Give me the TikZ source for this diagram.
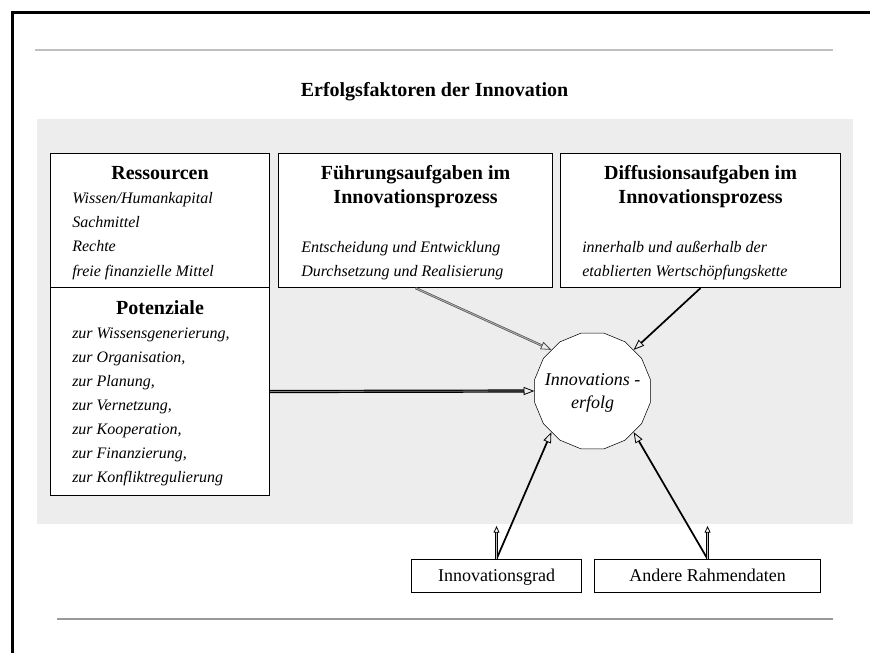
\documentclass[tikz,border=0pt]{standalone}
\usepackage{fontspec}
\setmainfont{Liberation Serif}
\usetikzlibrary{shapes, arrows.meta, calc, positioning}

\definecolor{bggray}{HTML}{EDEDED}

\begin{document}
\begin{tikzpicture}[x=0.75pt, y=-0.75pt, font=\fontsize{12}{18}\selectfont,
  box/.style={draw, line width=0.8pt, fill=white, anchor=north west, inner sep=0pt},
  head/.style={font=\fontsize{15}{18}\selectfont\bfseries, align=center, inner sep=0pt, anchor=north},
  items/.style={font=\fontsize{12}{18.2}\selectfont\itshape, align=left, inner sep=0pt, anchor=north west},
  tip/.style={-{Triangle[open, length=8pt, width=6pt, line width=0.6pt]}},
  blk/.style={tip, line width=1.3pt},
  dblgray/.style={tip, draw=black!70, double=gray!60, double distance=0.7pt, line width=0.5pt},
  dblblk/.style={tip, draw=black, double=gray, double distance=0.6pt, line width=0.9pt},
  stub/.style={-{Triangle[open, length=5pt, width=4.5pt, line width=0.6pt]}, draw=black, double=gray!50, double distance=0.8pt, line width=0.6pt}]
\useasboundingbox (0,0) rectangle (870,653);

% frame and rules
\draw[line width=2pt] (12.5,653) -- (12.5,12.5) -- (870,12.5);
\draw[gray!50, line width=1.3pt] (35,50) -- (833,50);
\draw[gray!80, line width=1pt] (57,619) -- (833,619);

\node[font=\fontsize{15}{17}\selectfont\bfseries, anchor=base] (title) at (434.5,96) {Erfolgsfaktoren der Innovation};

\fill[bggray] (37,119) rectangle (853,524);

% boxes
\node[box, minimum width=164.25pt, minimum height=100.5pt] (res) at (50,153) {};
\node[box, minimum width=164.25pt, minimum height=156pt] (pot) at (50,287) {};
\node[box, minimum width=205.5pt, minimum height=100.5pt] (fuehr) at (278,153) {};
\node[box, minimum width=210pt, minimum height=100.5pt] (diff) at (560,153) {};

\node[head] (reshead) at ($(res.north)+(0,13)$) {Ressourcen};
\node[items] (resitems) at ($(res.north west)+(22,39)$) {Wissen/Humankapital\\Sachmittel\\Rechte\\freie finanzielle Mittel};

\node[head] (pothead) at ($(pot.north)+(0,13)$) {Potenziale};
\node[items, font=\fontsize{12}{18}\selectfont\itshape] (potitems) at ($(pot.north west)+(22,41)$) {zur Wissensgenerierung,\\zur Organisation,\\zur Planung,\\zur Vernetzung,\\zur Kooperation,\\zur Finanzierung,\\zur Konfliktregulierung};

\node[head] (fuehrhead) at ($(fuehr.north)+(0,12)$) {Führungsaufgaben im\\Innovationsprozess};
\node[items] (fuehritems) at ($(fuehr.north west)+(23,88)$) {Entscheidung und Entwicklung\\Durchsetzung und Realisierung};

\node[head] (diffhead) at ($(diff.north)+(0,12)$) {Diffusionsaufgaben im\\Innovationsprozess};
\node[items] (diffitems) at ($(diff.north west)+(22,88)$) {innerhalb und außerhalb der\\etablierten Wertschöpfungskette};

% center
\node[draw, regular polygon, regular polygon sides=16, minimum size=88.5pt, inner sep=0pt, fill=white, line width=0.4pt] (erfolg) at (592.5,391) {};
\node[font=\fontsize{13.5}{17.5}\selectfont\itshape, align=center, inner sep=0pt] (erfolgtext) at ($(erfolg.center)+(0,2)$) {Innovations -\\erfolg};

\node[box, minimum width=127.5pt, minimum height=24.75pt, font=\fontsize{13.5}{15}\selectfont, text depth=1pt] (grad) at (411,559) {Innovationsgrad};
\node[box, minimum width=169.5pt, minimum height=24.75pt, font=\fontsize{13.5}{15}\selectfont, text depth=1pt] (rahmen) at (594,559) {Andere Rahmendaten};

% arrows
\draw[dblgray] (fuehr.south) -- (erfolg.135);
\draw[blk] (diff.south) -- (erfolg.45);
\draw[dblblk] (pot.east) -- (erfolg.west);
\draw[blk] (grad.north) -- (erfolg.225);
\draw[blk] (rahmen.north) -- (erfolg.315);
\draw[stub] (grad.north) -- ($(grad.north)+(0,-33)$);
\draw[stub] (rahmen.north) -- ($(rahmen.north)+(0,-33)$);
\end{tikzpicture}
\end{document}
